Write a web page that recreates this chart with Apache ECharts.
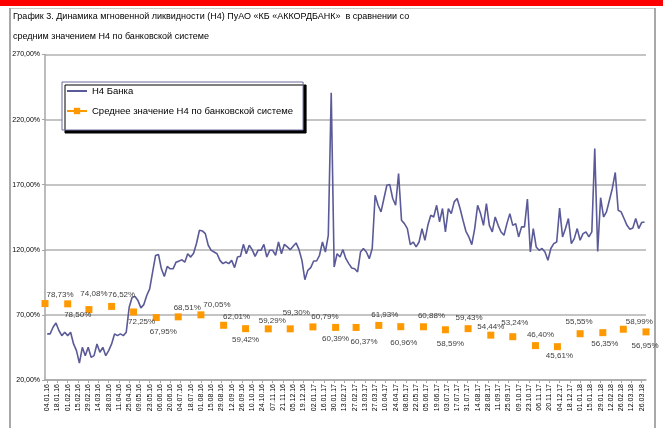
<!DOCTYPE html>
<html>
<head>
<meta charset="utf-8">
<title>Н4</title>
<script src="https://cdn.jsdelivr.net/npm/echarts@6.0.0/dist/echarts.min.js"></script>
<style>
  html, body { margin: 0; padding: 0; background: #fff; }
  #main { width: 663px; height: 428px; }
</style>
</head>
<body>
<div id="main"></div>
<script>
// tick labels of the date axis (every 2 weeks)
var axisDates = [
  '04.01.16','18.01.16','01.02.16','15.02.16','29.02.16','14.03.16','28.03.16','11.04.16','25.04.16','09.05.16',
  '23.05.16','06.06.16','20.06.16','04.07.16','18.07.16','01.08.16','15.08.16','29.08.16','12.09.16','26.09.16',
  '10.10.16','24.10.16','07.11.16','21.11.16','05.12.16','19.12.16','02.01.17','16.01.17','30.01.17','13.02.17',
  '27.02.17','13.03.17','27.03.17','10.04.17','24.04.17','08.05.17','22.05.17','05.06.17','19.06.17','03.07.17',
  '17.07.17','31.07.17','14.08.17','28.08.17','11.09.17','25.09.17','09.10.17','23.10.17','06.11.17','20.11.17',
  '04.12.17','18.12.17','01.01.18','15.01.18','29.01.18','12.02.18','26.02.18','12.03.18','26.03.18'
];

// average H4 of the banking system, monthly
var avgMonths = [
  '01.01.16','01.02.16','01.03.16','01.04.16','01.05.16','01.06.16','01.07.16','01.08.16','01.09.16','01.10.16',
  '01.11.16','01.12.16','01.01.17','01.02.17','01.03.17','01.04.17','01.05.17','01.06.17','01.07.17','01.08.17',
  '01.09.17','01.10.17','01.11.17','01.12.17','01.01.18','01.02.18','01.03.18','01.04.18'
];
var avgH4 = [
  78.73, 78.50, 74.08, 76.52, 72.25, 67.95, 68.51, 70.05, 62.01, 59.42,
  59.29, 59.30, 60.79, 60.39, 60.37, 61.93, 60.96, 60.88, 58.59, 59.43,
  54.44, 53.24, 46.40, 45.61, 55.55, 56.35, 58.99, 56.95
];

// H4 of the bank, read every 4 days from 04.01.16
var bankStart = '04.01.16';
var bankStepDays = 4;
var bankH4 = [
  55.4, 55.4, 60.5, 63.8, 58, 54.1, 56.7, 54.1, 56.7, 47.7,
  42.6, 33, 45.1, 38.7, 45.1, 37.4, 38.7, 47.7, 41.3, 45.1,
  38.7, 42.6, 47.7, 55.4, 54.1, 55.4, 54.1, 56.7, 75.9, 83.6,
  84.1, 81, 75.4, 77.9, 84.9, 90, 102.8, 115.6, 116.4, 105.4,
  99.5, 107.2, 105.4, 105.4, 110.5, 111.3, 112.3, 110.5, 116.9, 114.4,
  117.4, 125, 135, 134.5, 132.4, 123.5, 119.6, 118.3, 117, 111.9,
  109.4, 110.6, 109.4, 111.9, 106.3, 114.5, 115, 124.2, 117, 123.5,
  120.1, 115, 119.6, 119.6, 124.2, 114.5, 119.6, 119.6, 115.8, 126,
  117, 124.2, 122.2, 120.1, 122.7, 125.3, 120.1, 111.9, 97, 104.2,
  106.3, 111.4, 111.4, 115.8, 126, 118.3, 131, 240.6, 106.8, 117,
  114.5, 120.1, 113.2, 109.4, 106, 105.5, 103, 118.3, 121, 118.3,
  113.2, 121, 161.9, 154.2, 149.1, 159.4, 169.6, 170.1, 159.4, 154.2,
  178.6, 142.7, 140.1, 136.3, 124, 126, 122.2, 126, 136.3, 127.3,
  138.8, 146.5, 145.2, 154.2, 141.4, 151.7, 133.7, 151.7, 147.8, 156.8,
  159.4, 151.7, 142.7, 134.2, 129.9, 124, 136.3, 154.2, 147.8, 138.8,
  155.5, 138.8, 133.7, 145.2, 138.8, 133.7, 131.2, 140.1, 147.8, 138.8,
  140.1, 129.9, 137.6, 137.6, 159, 118.3, 136.3, 122.2, 119.6, 121,
  118.3, 111.9, 121, 124.7, 126, 152, 129.9, 136.3, 144, 124.7,
  128.6, 136.3, 127.3, 132.4, 133.7, 129.9, 133.7, 197.8, 118.8, 160,
  145.2, 149.1, 158.1, 167.1, 179.4, 150.4, 149.1, 144, 138.8, 135.8,
  136.8, 144, 136.3, 140.9, 141.4
];

// label placement of the average values (dx, dy from the marker)
var avgLabelOffset = [
  [15,-9],[10,11],[5,-16],[10,-12],[8,10],[7,14],[9,-9],[16,-10],[13,-9],[0,11],
  [4,-8],[6,-16],[12,-10],[0,11],[8,14],[6,-11],[3,16],[8,-11],[5,14],[1,-11],
  [0,-8],[2,-14],[5,-11],[2,9],[-1,-12],[2,11],[16,-7],[-1,14]
];

var FONT = 'Liberation Sans';

function dayOf(s) {
  var p = s.split('.').map(Number);
  return Math.round((Date.UTC(2000 + p[2], p[1] - 1, p[0]) - Date.UTC(2016, 0, 1)) / 86400000);
}
function pct(v) {
  return v.toFixed(2).replace('.', ',') + '%';
}

var tickDays = axisDates.map(dayOf);
var labelByDay = {};
axisDates.forEach(function (s, i) { labelByDay[tickDays[i]] = s; });

var bankData = bankH4.map(function (v, i) {
  return [dayOf(bankStart) + i * bankStepDays, v];
});
var avgData = avgH4.map(function (v, i) {
  return {
    value: [dayOf(avgMonths[i]), v],
    label: { offset: avgLabelOffset[i] }
  };
});

var myChart = echarts.init(document.getElementById('main'));
var option = {
  animation: false,
  backgroundColor: '#fff',
  textStyle: { fontFamily: FONT },
  title: {
    text: 'График 3. Динамика мгновенной ликвидности (Н4) ПуАО «КБ «АККОРДБАНК»  в сравнении со\nсредним значением Н4 по банковской системе',
    left: 13,
    top: 7,
    padding: 0,
    textStyle: { fontFamily: FONT, fontSize: 9, fontWeight: 'normal', color: '#000', lineHeight: 20 }
  },
  graphic: [
    { type: 'rect', shape: { x: 0, y: 0, width: 663, height: 6 }, style: { fill: '#ff0000' } },
    { type: 'line', shape: { x1: 9, y1: 8.5, x2: 655, y2: 8.5 }, style: { stroke: '#c8c8c8', lineWidth: 1 } },
    { type: 'line', shape: { x1: 10, y1: 8, x2: 10, y2: 428 }, style: { stroke: '#a8a8a8', lineWidth: 2 } },
    { type: 'line', shape: { x1: 655, y1: 8, x2: 655, y2: 428 }, style: { stroke: '#a8a8a8', lineWidth: 2 } }
  ],
  legend: {
    orient: 'vertical',
    left: 62,
    top: 82,
    padding: [4, 10, 14, 4],
    itemGap: 10,
    itemWidth: 20,
    itemHeight: 8,
    backgroundColor: '#fff',
    borderColor: '#6a6a9a',
    borderWidth: 1,
    shadowColor: '#000',
    shadowBlur: 0,
    shadowOffsetX: 3,
    shadowOffsetY: 3,
    textStyle: { fontFamily: FONT, fontSize: 9.5, color: '#000' },
    data: [
      { name: 'Н4 Банка', itemStyle: { opacity: 0 } },
      { name: 'Среднее значение Н4 по банковской системе', lineStyle: { opacity: 1, width: 2, color: '#ff9900' } }
    ]
  },
  grid: { left: 45, right: 17, top: 54.5, bottom: 48, containLabel: false },
  xAxis: {
    type: 'value',
    min: 0,
    max: dayOf('01.04.18'),
    axisLine: { show: true, lineStyle: { color: '#a6a6a6', width: 1.5 } },
    axisTick: { show: true, customValues: tickDays, length: 3, lineStyle: { color: '#a6a6a6' } },
    axisLabel: {
      customValues: tickDays,
      rotate: 90,
      margin: 4,
      fontSize: 7,
      color: '#000',
      fontFamily: FONT,
      formatter: function (v) { return labelByDay[Math.round(v)] || ''; }
    },
    splitLine: { show: false }
  },
  yAxis: {
    type: 'value',
    min: 20,
    max: 270,
    interval: 50,
    axisLine: { show: true, lineStyle: { color: '#a6a6a6', width: 1.5 } },
    axisTick: { show: true, length: 3, lineStyle: { color: '#a6a6a6' } },
    axisLabel: { fontSize: 7, color: '#000', margin: 5, fontFamily: FONT, formatter: pct },
    splitLine: { show: true, lineStyle: { color: '#b0b0b0', width: 1.5 } }
  },
  series: [
    {
      name: 'Н4 Банка',
      type: 'line',
      data: bankData,
      symbol: 'none',
      clip: false,
      lineStyle: { color: '#5a5a98', width: 1.6 },
      itemStyle: { color: '#5a5a98' },
      z: 3
    },
    {
      name: 'Среднее значение Н4 по банковской системе',
      type: 'line',
      data: avgData,
      symbol: 'rect',
      symbolSize: 7,
      clip: false,
      lineStyle: { opacity: 0, color: '#ff9900', width: 2 },
      itemStyle: { color: '#ff9900' },
      label: {
        show: true,
        position: 'inside',
        fontSize: 8,
        color: '#404040',
        textBorderWidth: 0,
        fontFamily: FONT,
        formatter: function (p) { return pct(p.value[1]); }
      },
      z: 4
    }
  ]
};
myChart.setOption(option);
</script>
</body>
</html>
